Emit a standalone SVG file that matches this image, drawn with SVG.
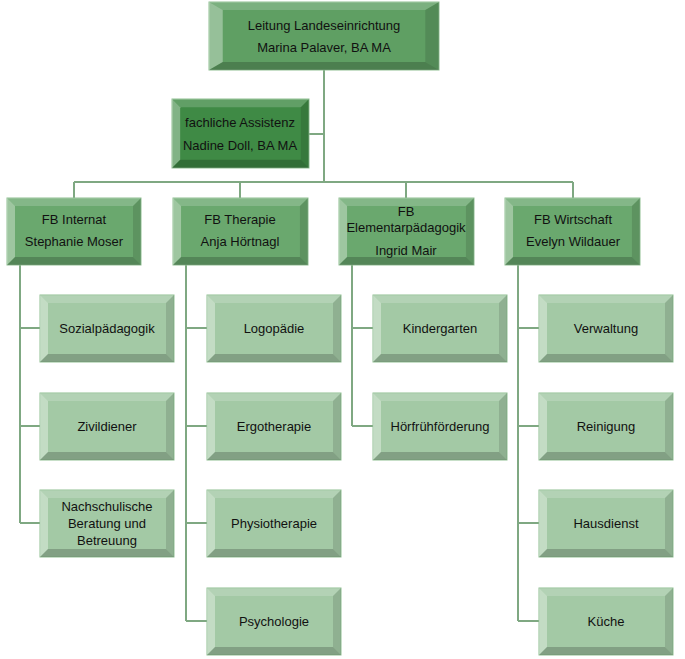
<svg xmlns="http://www.w3.org/2000/svg" width="685" height="659" viewBox="0 0 685 659">
<defs>
<symbol id="bev" viewBox="0 0 134 67" preserveAspectRatio="none">
<polygon points="0,0 8,8 8,59 0,67" fill="#fff" opacity="0.35"/>
<polygon points="0,0 134,0 126,8 8,8" fill="#fff" opacity="0.18"/>
<polygon points="134,0 134,67 126,59 126,8" fill="#000" opacity="0.12"/>
<polygon points="0,67 134,67 126,59 8,59" fill="#000" opacity="0.2"/>
</symbol>
</defs>
<style>
text{font-family:"Liberation Sans",Arial,sans-serif;font-size:13px;fill:#111;text-anchor:middle}
.b{stroke:#8fbf92;stroke-width:1}
.t{fill:#5f9f63}.a{fill:#3f8a45}.l{fill:#6aa86e}.c{fill:#a3c9a5}
.ln{stroke:#7fa882;stroke-width:2;fill:none}
</style>
<rect width="685" height="659" fill="#fff"/>
<g id="connectors" class="ln">
<path d="M324 70V182M74 182H573M74 182V198M240 182V198M406 182V198M573 182V198M309 134H324"/>
<path d="M20 265V523M20 328H40M20 426H40M20 523H40"/>
<path d="M186 265V621M186 328H207M186 426H207M186 523H207M186 621H207"/>
<path d="M352 265V426M352 328H373M352 426H373"/>
<path d="M518 265V621M518 328H539M518 426H539M518 523H539M518 621H539"/>
</g>
<g id="n0"><rect class="b t" x="209" y="2" width="230" height="68"/><use href="#bev" x="209" y="2" width="230" height="68"/><text x="324" y="30">Leitung Landeseinrichtung</text><text x="324" y="52">Marina Palaver, BA MA</text></g>
<g id="n1"><rect class="b a" x="172" y="99" width="137" height="69"/><use href="#bev" x="172" y="99" width="137" height="69"/><text x="240" y="127">fachliche Assistenz</text><text x="240" y="150">Nadine Doll, BA MA</text></g>
<g id="fb1"><rect class="b l" x="7" y="198" width="134" height="67"/><use href="#bev" x="7" y="198" width="134" height="67"/><text x="74" y="224">FB Internat</text><text x="74" y="246">Stephanie Moser</text></g>
<g id="fb2"><rect class="b l" x="173" y="198" width="135" height="67"/><use href="#bev" x="173" y="198" width="135" height="67"/><text x="240" y="224">FB Therapie</text><text x="240" y="246">Anja Hörtnagl</text></g>
<g id="fb3"><rect class="b l" x="339" y="198" width="135" height="67"/><use href="#bev" x="339" y="198" width="135" height="67"/><text x="406" y="216">FB</text><text x="406" y="232">Elementarpädagogik</text><text x="406" y="255">Ingrid Mair</text></g>
<g id="fb4"><rect class="b l" x="505" y="198" width="135" height="67"/><use href="#bev" x="505" y="198" width="135" height="67"/><text x="573" y="224">FB Wirtschaft</text><text x="573" y="246">Evelyn Wildauer</text></g>
<g id="c11"><rect class="b c" x="40" y="295" width="134" height="67"/><use href="#bev" x="40" y="295" width="134" height="67"/><text x="107" y="333">Sozialpädagogik</text></g>
<g id="c12"><rect class="b c" x="40" y="393" width="134" height="67"/><use href="#bev" x="40" y="393" width="134" height="67"/><text x="107" y="431">Zivildiener</text></g>
<g id="c13"><rect class="b c" x="40" y="490" width="134" height="67"/><use href="#bev" x="40" y="490" width="134" height="67"/><text x="107" y="511">Nachschulische</text><text x="107" y="528">Beratung und</text><text x="107" y="545">Betreuung</text></g>
<g id="c21"><rect class="b c" x="207" y="295" width="134" height="67"/><use href="#bev" x="207" y="295" width="134" height="67"/><text x="274" y="333">Logopädie</text></g>
<g id="c22"><rect class="b c" x="207" y="393" width="134" height="67"/><use href="#bev" x="207" y="393" width="134" height="67"/><text x="274" y="431">Ergotherapie</text></g>
<g id="c23"><rect class="b c" x="207" y="490" width="134" height="67"/><use href="#bev" x="207" y="490" width="134" height="67"/><text x="274" y="528">Physiotherapie</text></g>
<g id="c24"><rect class="b c" x="207" y="588" width="134" height="67"/><use href="#bev" x="207" y="588" width="134" height="67"/><text x="274" y="626">Psychologie</text></g>
<g id="c31"><rect class="b c" x="373" y="295" width="134" height="67"/><use href="#bev" x="373" y="295" width="134" height="67"/><text x="440" y="333">Kindergarten</text></g>
<g id="c32"><rect class="b c" x="373" y="393" width="134" height="67"/><use href="#bev" x="373" y="393" width="134" height="67"/><text x="440" y="431">Hörfrühförderung</text></g>
<g id="c41"><rect class="b c" x="539" y="295" width="134" height="67"/><use href="#bev" x="539" y="295" width="134" height="67"/><text x="606" y="333">Verwaltung</text></g>
<g id="c42"><rect class="b c" x="539" y="393" width="134" height="67"/><use href="#bev" x="539" y="393" width="134" height="67"/><text x="606" y="431">Reinigung</text></g>
<g id="c43"><rect class="b c" x="539" y="490" width="134" height="67"/><use href="#bev" x="539" y="490" width="134" height="67"/><text x="606" y="528">Hausdienst</text></g>
<g id="c44"><rect class="b c" x="539" y="588" width="134" height="67"/><use href="#bev" x="539" y="588" width="134" height="67"/><text x="606" y="626">Küche</text></g>
</svg>
